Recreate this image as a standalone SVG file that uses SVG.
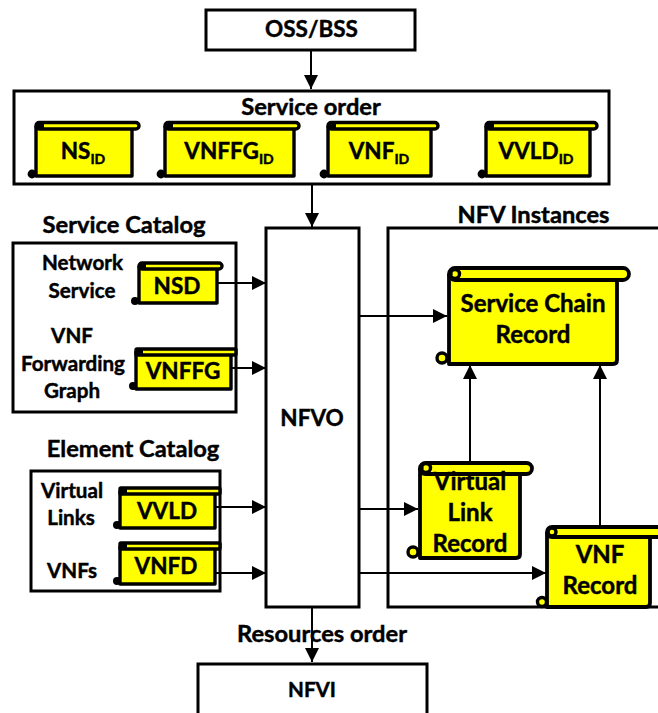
<svg xmlns="http://www.w3.org/2000/svg" width="658" height="713" viewBox="0 0 658 713">
<style>
text{font-family:Lato,"Liberation Sans",sans-serif;font-weight:700;fill:#000;text-anchor:middle;stroke:#000;stroke-width:.45}
.h{font-size:23.7px}
.l{font-size:20.6px}
.n{font-size:22.5px}
.m{font-size:24px}
.s{font-size:14px}
.box{fill:#fff;stroke:#000;stroke-width:3}
.sc{fill:#ff0;stroke:#000;stroke-width:3.4;stroke-linejoin:round}
.big{fill:#ff0;stroke:#000;stroke-width:3.8;stroke-linejoin:round}
.curl{fill:#000;stroke:#000;stroke-width:2}
.bc{fill:#ff0;stroke:#000;stroke-width:3.4}
.ci{fill:none;stroke:#000;stroke-width:1.8}
.cn{fill:none;stroke:#000;stroke-width:2}
</style>
<defs>
<marker id="a" markerUnits="userSpaceOnUse" markerWidth="15" markerHeight="14" refX="14" refY="7" orient="auto"><path d="M0 0L14 7L0 14Z" fill="#000"/></marker>
</defs>
<rect width="658" height="713" fill="#fff"/>
<g id="oss-bss"><rect class="box" x="206" y="10" width="209" height="40"/><text class="n" x="311.500" y="37">OSS/BSS</text></g>
<g id="service-order"><rect class="box" x="14" y="91" width="595" height="93"/><text class="h" x="311" y="115">Service order</text></g>
<g id="service-catalog"><rect class="box" x="13" y="243" width="223" height="169"/><text class="h" x="124" y="233">Service Catalog</text>
<text class="l" x="82.500" y="270">Network</text><text class="l" x="82" y="298">Service</text><text class="l" x="72" y="343">VNF</text><text class="l" x="73" y="371">Forwarding</text><text class="l" x="72" y="398">Graph</text></g>
<g id="element-catalog"><rect class="box" x="31" y="471" width="189" height="120"/><text class="h" x="133" y="457">Element Catalog</text>
<text class="l" x="72" y="498">Virtual</text><text class="l" x="71" y="525">Links</text><text class="l" x="72" y="578">VNFs</text></g>
<g id="nfv-instances"><rect class="box" x="388" y="228" width="280" height="379"/><text class="h" x="533.500" y="223">NFV Instances</text></g>
<g id="nfvo"><rect class="box" x="266" y="228" width="93" height="379"/><text class="n" x="312" y="426">NFVO</text></g>
<g id="nfvi"><rect class="box" x="198" y="664" width="229" height="60"/><text class="l" x="312" y="697">NFVI</text></g>

<g id="connectors">
<path class="cn" d="M311 50V89" marker-end="url(#a)"/>
<path class="cn" d="M312 184V227" marker-end="url(#a)"/>
<path class="cn" d="M217 283H266" marker-end="url(#a)"/>
<path class="cn" d="M231 368H266" marker-end="url(#a)"/>
<path class="cn" d="M215 507H266" marker-end="url(#a)"/>
<path class="cn" d="M215 573H266" marker-end="url(#a)"/>
<path class="cn" d="M359 316H447" marker-end="url(#a)"/>
<path class="cn" d="M359 509H418" marker-end="url(#a)"/>
<path class="cn" d="M359 573H546" marker-end="url(#a)"/>
<path class="cn" d="M470 462V365" marker-end="url(#a)"/>
<path class="cn" d="M600 526V365" marker-end="url(#a)"/>
<path class="cn" d="M312 607V662" marker-end="url(#a)"/>
</g>
<text id="resources-order" class="h" x="322" y="642">Resources order</text>

<g id="ns-id"><path class="sc" d="M36 126V176H132V129"/><rect class="sc" x="36" y="122.500" width="103" height="6.500" rx="3.200"/><circle class="curl" cx="32" cy="174" r="3.400"/><rect x="37" y="122" width="7" height="7"/><text class="n" x="83" y="159">NS<tspan class="s" dy="5">ID</tspan></text></g>
<g id="vnffg-id"><path class="sc" d="M165 126V176H294V129"/><rect class="sc" x="165" y="122.500" width="134" height="6.500" rx="3.200"/><circle class="curl" cx="161" cy="174" r="3.400"/><rect x="166" y="122" width="7" height="7"/><text class="n" x="229" y="159">VNFFG<tspan class="s" dy="5">ID</tspan></text></g>
<g id="vnf-id"><path class="sc" d="M328 126V176H431V129"/><rect class="sc" x="328" y="122.500" width="110" height="6.500" rx="3.200"/><circle class="curl" cx="324" cy="174" r="3.400"/><rect x="329" y="122" width="7" height="7"/><text class="n" x="379" y="159">VNF<tspan class="s" dy="5">ID</tspan></text></g>
<g id="vvld-id"><path class="sc" d="M486 126V176H590V129"/><rect class="sc" x="486" y="122.500" width="111" height="6.500" rx="3.200"/><circle class="curl" cx="482" cy="174" r="3.400"/><rect x="487" y="122" width="7" height="7"/><text class="n" x="536" y="159">VVLD<tspan class="s" dy="5">ID</tspan></text></g>

<g id="nsd"><path class="sc" d="M139 266V303H217V269"/><rect class="sc" x="139" y="263" width="83" height="6" rx="3"/><circle class="curl" cx="135" cy="301" r="3"/><rect x="140" y="263" width="6" height="6"/><text class="n" x="177" y="294">NSD</text></g>
<g id="vnffg"><path class="sc" d="M136 351V389H231V355"/><rect class="sc" x="136" y="349" width="100" height="6" rx="1"/><circle class="curl" cx="133" cy="386" r="3"/><rect x="137" y="349" width="6" height="6"/><text class="n" x="183" y="379">VNFFG</text></g>
<g id="vvld"><path class="sc" d="M120 491V528H215V494"/><rect class="sc" x="120" y="488" width="100" height="6" rx="1"/><circle class="curl" cx="117" cy="525" r="3"/><rect x="121" y="488" width="6" height="6"/><text class="n" x="167" y="519">VVLD</text></g>
<g id="vnfd"><path class="sc" d="M120 546V584H215V549"/><rect class="sc" x="120" y="543" width="100" height="6" rx="1"/><circle class="curl" cx="117" cy="581" r="3"/><rect x="121" y="543" width="6" height="6"/><text class="n" x="166" y="574">VNFD</text></g>

<g id="service-chain-record"><path class="big" d="M449 274V364H613Q617 364 617 360V280"/><rect class="big" x="449" y="268" width="180" height="12" rx="6"/><circle class="bc" cx="455" cy="274" r="4.500"/><path class="ci" d="M459 271A4 4 0 0 0 452 275"/><circle class="bc" cx="442" cy="358" r="5"/><text class="m" x="533" y="312">Service Chain</text><text class="m" x="533" y="343">Record</text></g>
<g id="virtual-link-record"><path class="big" d="M420 468V558H516Q520 558 520 554V474"/><rect class="big" x="420" y="463" width="112" height="11" rx="5.500"/><circle class="bc" cx="426" cy="468" r="4.500"/><path class="ci" d="M430 465A4 4 0 0 0 423 469"/><circle class="bc" cx="413" cy="552" r="5"/><text class="m" x="470" y="490">Virtual</text><text class="m" x="470" y="521">Link</text><text class="m" x="470" y="552">Record</text></g>
<g id="vnf-record"><path class="big" d="M547 532V607H646Q650 607 650 603V537"/><rect class="big" x="547" y="527" width="125" height="10" rx="5"/><circle class="bc" cx="552" cy="532" r="4"/><circle class="bc" cx="542" cy="602" r="4.500"/><text class="m" x="600" y="563">VNF</text><text class="m" x="600" y="594">Record</text></g>
</svg>
